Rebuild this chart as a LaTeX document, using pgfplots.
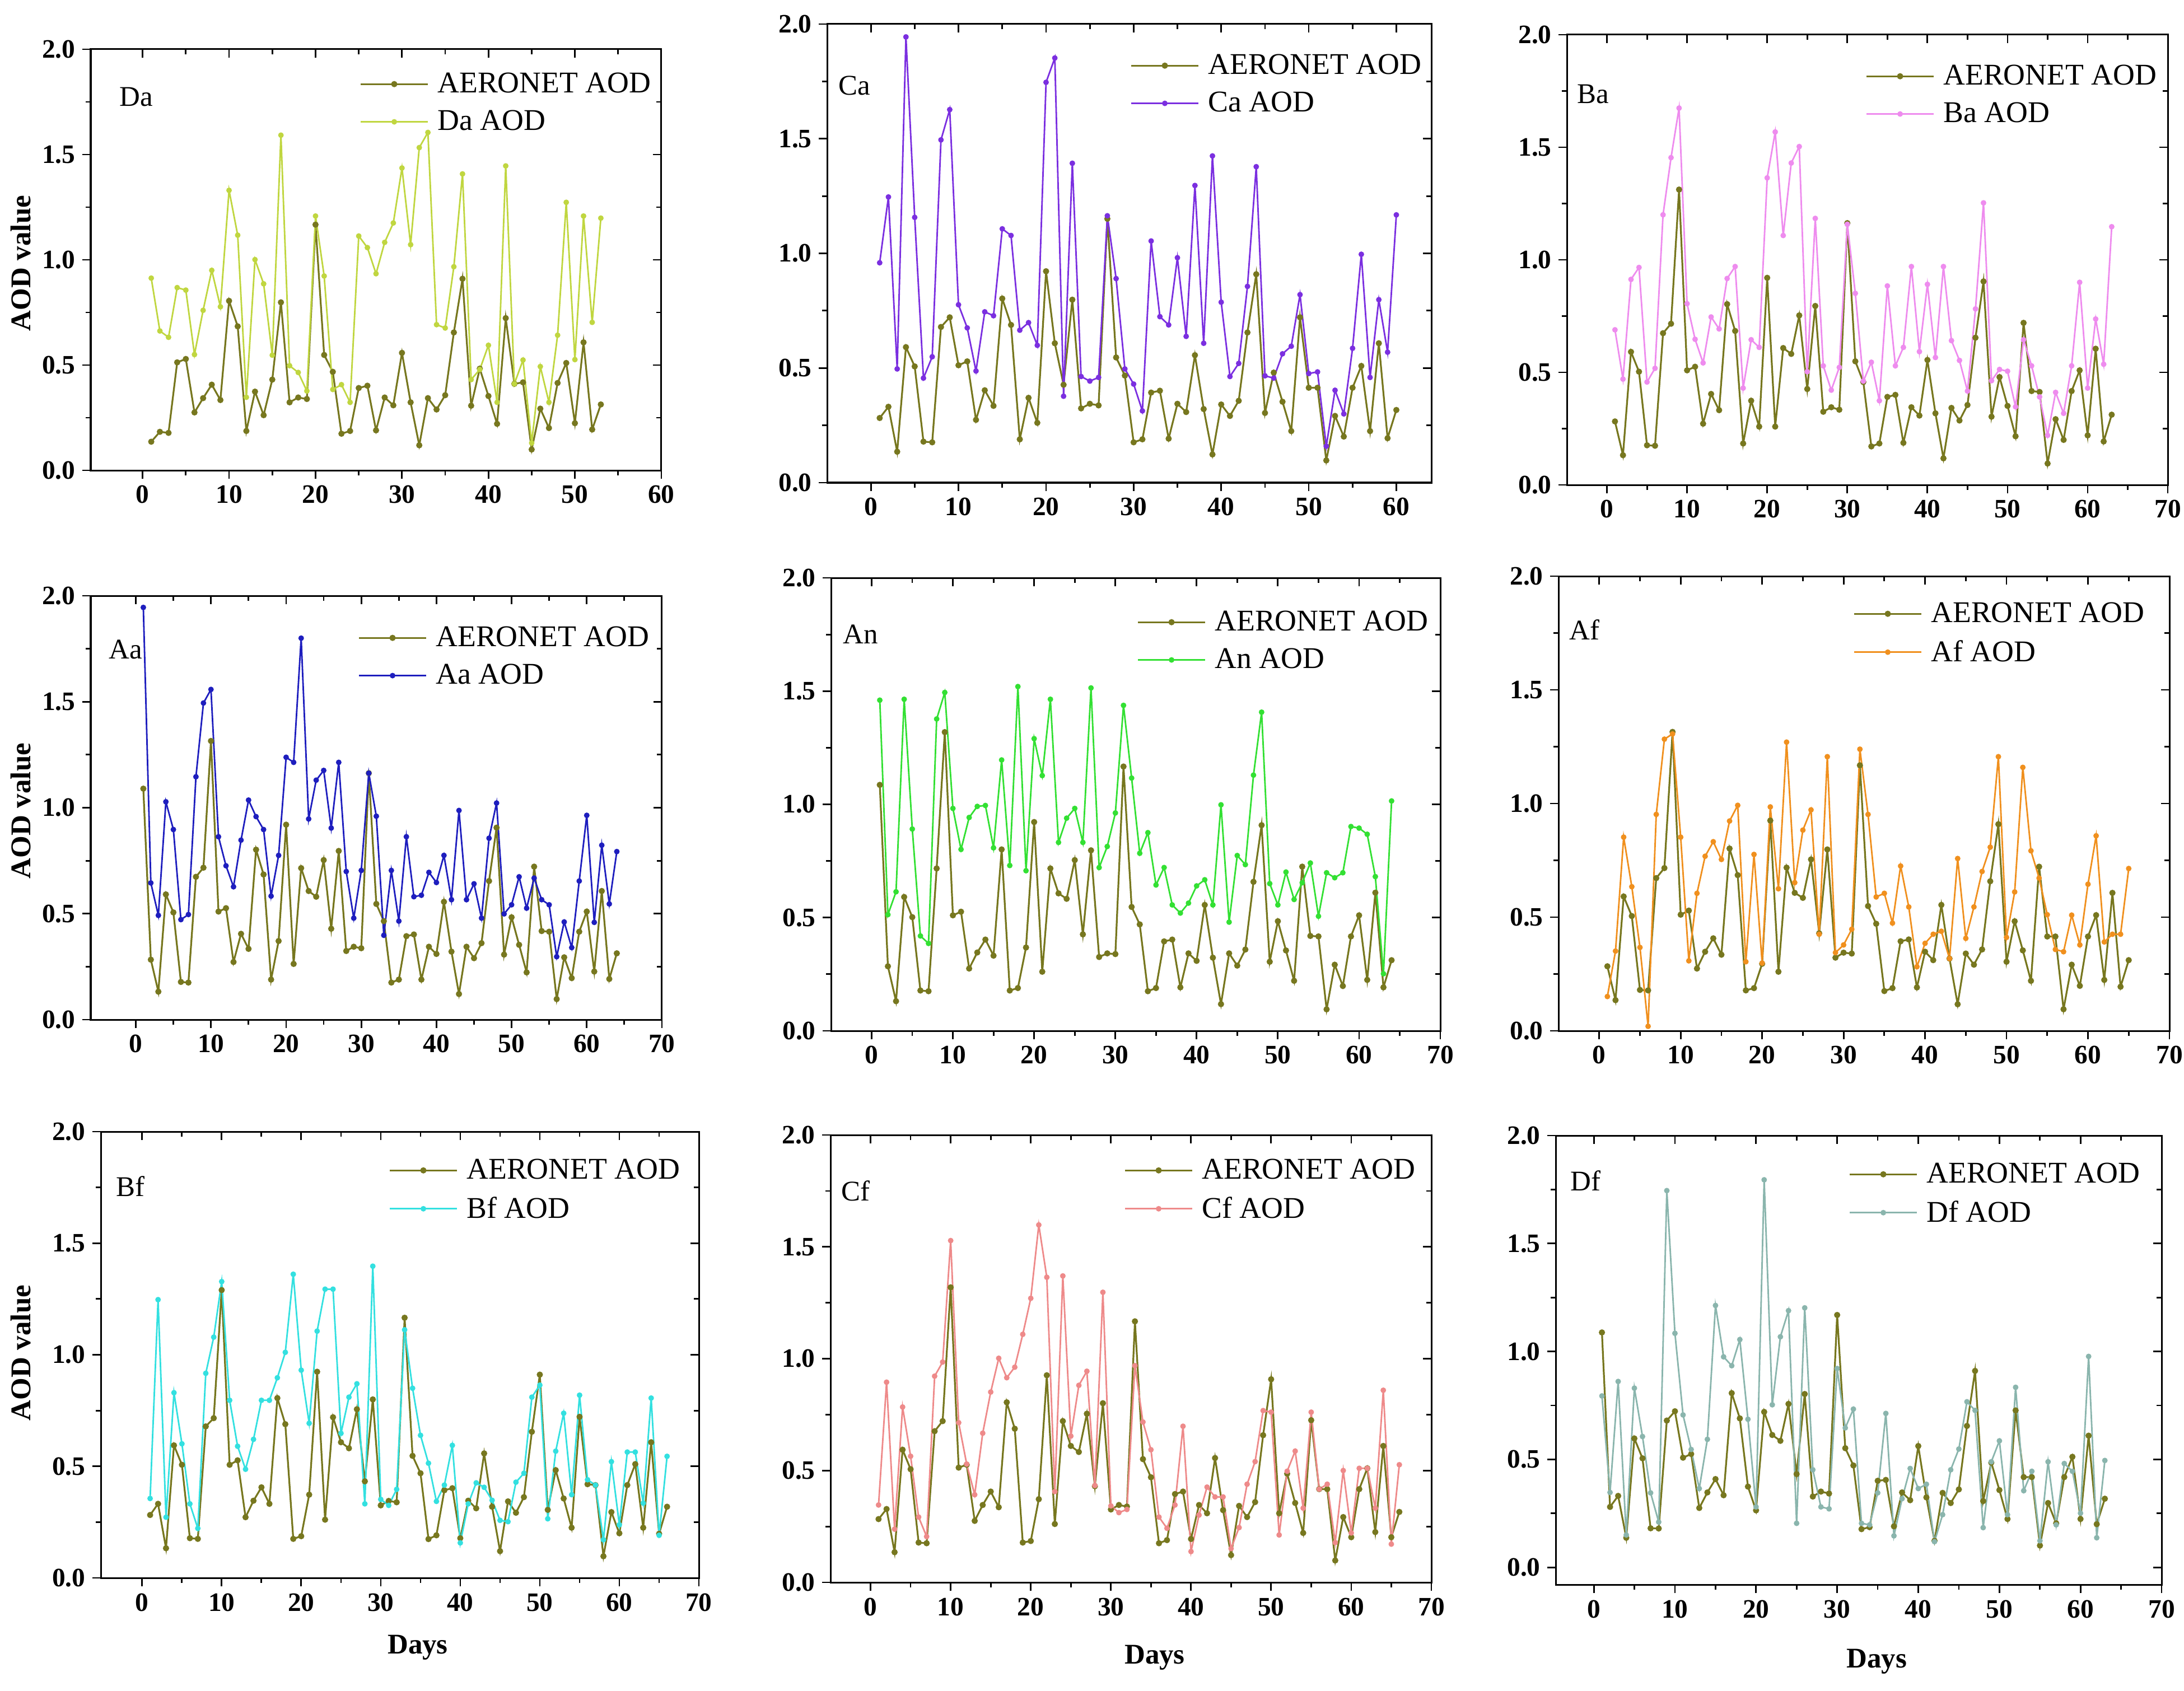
\documentclass[border=0pt]{standalone}
\usepackage{fontspec}
\setmainfont{Liberation Serif}
\usepackage{pgfplots}
\usepackage{pgfplotstable}
\pgfplotsset{compat=1.18}

\definecolor{aer}{HTML}{77771F}
\definecolor{cDa}{HTML}{C0D640}
\definecolor{cCa}{HTML}{7B2FE0}
\definecolor{cBa}{HTML}{EE8CEE}
\definecolor{cAa}{HTML}{1E1EBE}
\definecolor{cAn}{HTML}{33E033}
\definecolor{cAf}{HTML}{F0901E}
\definecolor{cBf}{HTML}{33E0E0}
\definecolor{cCf}{HTML}{EE8A8A}
\definecolor{cDf}{HTML}{8AB5AD}

\pgfplotstableread{
d a m
1 0.136 0.913
2 0.183 0.662
3 0.178 0.632
4 0.513 0.868
5 0.529 0.856
6 0.275 0.550
7 0.343 0.760
8 0.407 0.950
9 0.334 0.777
10 0.805 1.330
11 0.684 1.117
12 0.187 0.347
13 0.374 1.001
14 0.262 0.886
15 0.431 0.547
16 0.798 1.592
17 0.323 0.497
18 0.346 0.465
19 0.339 0.377
20 1.167 1.208
21 0.548 0.923
22 0.468 0.384
23 0.174 0.407
24 0.187 0.323
25 0.391 1.113
26 0.402 1.058
27 0.190 0.934
28 0.346 1.083
29 0.309 1.175
30 0.558 1.436
31 0.323 1.072
32 0.119 1.533
33 0.343 1.605
34 0.289 0.692
35 0.357 0.676
36 0.655 0.967
37 0.910 1.408
38 0.307 0.431
39 0.483 0.479
40 0.353 0.594
41 0.221 0.323
42 0.723 1.446
43 0.411 0.411
44 0.418 0.524
45 0.099 0.130
46 0.293 0.493
47 0.201 0.323
48 0.415 0.642
49 0.510 1.273
50 0.224 0.526
51 0.608 1.208
52 0.194 0.703
53 0.313 1.198
}\tDa

\pgfplotstableread{
d a m
1 0.282 0.959
2 0.331 1.246
3 0.135 0.496
4 0.591 1.944
5 0.507 1.157
6 0.179 0.456
7 0.176 0.549
8 0.679 1.495
9 0.721 1.627
10 0.512 0.776
11 0.529 0.675
12 0.274 0.487
13 0.403 0.745
14 0.335 0.728
15 0.803 1.107
16 0.688 1.078
17 0.189 0.665
18 0.370 0.698
19 0.261 0.599
20 0.922 1.746
21 0.608 1.852
22 0.427 0.377
23 0.798 1.393
24 0.324 0.463
25 0.344 0.443
26 0.337 0.459
27 1.151 1.164
28 0.546 0.890
29 0.467 0.496
30 0.176 0.430
31 0.189 0.313
32 0.393 1.054
33 0.401 0.724
34 0.192 0.688
35 0.344 0.981
36 0.308 0.638
37 0.556 1.296
38 0.321 0.608
39 0.123 1.425
40 0.341 0.787
41 0.291 0.463
42 0.357 0.520
43 0.655 0.856
44 0.909 1.378
45 0.304 0.466
46 0.480 0.456
47 0.353 0.562
48 0.225 0.595
49 0.721 0.820
50 0.414 0.476
51 0.414 0.483
52 0.097 0.159
53 0.291 0.403
54 0.201 0.300
55 0.414 0.586
56 0.509 0.996
57 0.225 0.459
58 0.608 0.798
59 0.194 0.569
60 0.317 1.168
}\tCa

\pgfplotstableread{
d a m
1 0.282 0.689
2 0.132 0.470
3 0.591 0.913
4 0.503 0.966
5 0.176 0.457
6 0.174 0.518
7 0.674 1.200
8 0.716 1.454
9 1.312 1.674
10 0.509 0.805
11 0.525 0.647
12 0.272 0.542
13 0.404 0.746
14 0.332 0.693
15 0.803 0.917
16 0.684 0.970
17 0.184 0.430
18 0.374 0.645
19 0.259 0.611
20 0.920 1.364
21 0.259 1.568
22 0.608 1.108
23 0.582 1.430
24 0.753 1.503
25 0.426 0.503
26 0.795 1.184
27 0.325 0.529
28 0.345 0.421
29 0.334 0.522
30 1.163 1.158
31 0.549 0.851
32 0.457 0.461
33 0.171 0.545
34 0.184 0.374
35 0.391 0.884
36 0.400 0.529
37 0.187 0.611
38 0.345 0.970
39 0.308 0.592
40 0.555 0.891
41 0.318 0.566
42 0.118 0.970
43 0.342 0.641
44 0.286 0.553
45 0.355 0.417
46 0.654 0.782
47 0.904 1.253
48 0.303 0.463
49 0.479 0.513
50 0.351 0.505
51 0.216 0.347
52 0.720 0.645
53 0.417 0.529
54 0.413 0.391
55 0.095 0.220
56 0.292 0.411
57 0.200 0.318
58 0.417 0.529
59 0.509 0.900
60 0.220 0.430
61 0.605 0.737
62 0.193 0.536
63 0.312 1.147
}\tBa

\pgfplotstableread{
d a m
1 1.090 1.945
2 0.283 0.645
3 0.132 0.492
4 0.591 1.028
5 0.506 0.897
6 0.178 0.472
7 0.175 0.496
8 0.674 1.146
9 0.717 1.494
10 1.315 1.558
11 0.510 0.863
12 0.526 0.726
13 0.272 0.627
14 0.405 0.847
15 0.334 1.036
16 0.802 0.958
17 0.685 0.897
18 0.189 0.583
19 0.371 0.775
20 0.920 1.238
21 0.263 1.214
22 0.715 1.800
23 0.607 0.947
24 0.580 1.130
25 0.753 1.176
26 0.429 0.904
27 0.796 1.214
28 0.324 0.699
29 0.344 0.479
30 0.337 0.704
31 1.163 1.163
32 0.546 0.960
33 0.465 0.398
34 0.175 0.704
35 0.189 0.465
36 0.394 0.863
37 0.402 0.580
38 0.189 0.587
39 0.344 0.695
40 0.310 0.647
41 0.556 0.775
42 0.321 0.566
43 0.121 0.987
44 0.344 0.566
45 0.290 0.641
46 0.361 0.479
47 0.654 0.856
48 0.906 1.022
49 0.307 0.499
50 0.483 0.542
51 0.353 0.674
52 0.223 0.526
53 0.722 0.668
54 0.418 0.566
55 0.415 0.542
56 0.097 0.297
57 0.294 0.461
58 0.196 0.340
59 0.415 0.654
60 0.510 0.964
61 0.227 0.459
62 0.607 0.823
63 0.192 0.546
64 0.313 0.793
}\tAa

\pgfplotstableread{
d a m
1 1.086 1.460
2 0.285 0.513
3 0.131 0.614
4 0.591 1.464
5 0.502 0.891
6 0.178 0.419
7 0.175 0.386
8 0.717 1.377
9 1.319 1.494
10 0.510 0.982
11 0.526 0.801
12 0.275 0.942
13 0.346 0.991
14 0.403 0.995
15 0.332 0.808
16 0.801 1.196
17 0.178 0.730
18 0.189 1.520
19 0.368 0.707
20 0.922 1.290
21 0.261 1.127
22 0.717 1.464
23 0.607 0.832
24 0.583 0.939
25 0.754 0.982
26 0.426 0.832
27 0.797 1.514
28 0.326 0.721
29 0.342 0.814
30 0.339 0.962
31 1.167 1.437
32 0.547 1.116
33 0.470 0.784
34 0.175 0.875
35 0.189 0.644
36 0.395 0.721
37 0.403 0.556
38 0.192 0.520
39 0.342 0.564
40 0.309 0.640
41 0.556 0.667
42 0.323 0.556
43 0.118 0.998
44 0.342 0.480
45 0.288 0.774
46 0.359 0.734
47 0.658 1.129
48 0.908 1.407
49 0.305 0.650
50 0.484 0.556
51 0.355 0.701
52 0.221 0.580
53 0.725 0.654
54 0.419 0.741
55 0.417 0.506
56 0.095 0.698
57 0.292 0.676
58 0.198 0.698
59 0.417 0.902
60 0.510 0.895
61 0.225 0.868
62 0.610 0.681
63 0.192 0.252
64 0.312 1.015
}\tAn

\pgfplotstableread{
d a m
1 0.284 0.151
2 0.135 0.351
3 0.591 0.852
4 0.505 0.634
5 0.180 0.367
6 0.178 0.020
7 0.672 0.952
8 0.716 1.283
9 1.315 1.306
10 0.511 0.852
11 0.529 0.308
12 0.274 0.605
13 0.348 0.768
14 0.407 0.832
15 0.335 0.754
16 0.802 0.923
17 0.685 0.992
18 0.178 0.304
19 0.188 0.776
20 0.295 0.298
21 0.925 0.985
22 0.260 0.625
23 0.718 1.270
24 0.607 0.652
25 0.585 0.883
26 0.754 0.972
27 0.429 0.425
28 0.798 1.206
29 0.322 0.344
30 0.344 0.378
31 0.340 0.447
32 1.168 1.239
33 0.549 0.952
34 0.471 0.589
35 0.175 0.605
36 0.188 0.474
37 0.394 0.725
38 0.402 0.545
39 0.191 0.282
40 0.348 0.385
41 0.311 0.425
42 0.554 0.438
43 0.318 0.318
44 0.117 0.758
45 0.340 0.407
46 0.291 0.545
47 0.358 0.701
48 0.658 0.808
49 0.909 1.206
50 0.304 0.411
51 0.482 0.611
52 0.354 1.159
53 0.220 0.792
54 0.722 0.672
55 0.415 0.511
56 0.415 0.358
57 0.095 0.348
58 0.291 0.509
59 0.198 0.378
60 0.415 0.645
61 0.509 0.858
62 0.224 0.391
63 0.607 0.425
64 0.194 0.425
65 0.311 0.714
}\tAf

\pgfplotstableread{
d a m
1 0.282 0.356
2 0.332 1.247
3 0.133 0.272
4 0.594 0.830
5 0.507 0.601
6 0.178 0.332
7 0.175 0.222
8 0.679 0.917
9 0.716 1.079
10 1.290 1.328
11 0.507 0.796
12 0.527 0.590
13 0.272 0.487
14 0.346 0.621
15 0.406 0.796
16 0.332 0.796
17 0.806 0.897
18 0.689 1.011
19 0.175 1.361
20 0.187 0.931
21 0.373 0.693
22 0.924 1.106
23 0.261 1.294
24 0.720 1.294
25 0.608 0.648
26 0.581 0.810
27 0.756 0.870
28 0.433 0.332
29 0.800 1.397
30 0.325 0.352
31 0.345 0.325
32 0.339 0.397
33 1.166 1.112
34 0.547 0.850
35 0.469 0.639
36 0.174 0.514
37 0.191 0.343
38 0.393 0.416
39 0.402 0.594
40 0.178 0.157
41 0.346 0.332
42 0.312 0.426
43 0.558 0.406
44 0.319 0.348
45 0.120 0.258
46 0.343 0.252
47 0.292 0.429
48 0.362 0.469
49 0.655 0.810
50 0.911 0.864
51 0.305 0.265
52 0.483 0.568
53 0.356 0.738
54 0.225 0.373
55 0.722 0.819
56 0.420 0.440
57 0.416 0.416
58 0.097 0.171
59 0.295 0.521
60 0.200 0.238
61 0.416 0.564
62 0.510 0.564
63 0.225 0.335
64 0.608 0.806
65 0.198 0.191
66 0.319 0.545
}\tBf

\pgfplotstableread{
d a m
1 0.283 0.346
2 0.328 0.895
3 0.135 0.238
4 0.593 0.784
5 0.506 0.564
6 0.178 0.292
7 0.175 0.205
8 0.676 0.922
9 0.721 0.985
10 1.319 1.528
11 0.513 0.714
12 0.526 0.529
13 0.275 0.392
14 0.346 0.667
15 0.406 0.851
16 0.336 1.002
17 0.805 0.915
18 0.687 0.962
19 0.178 1.109
20 0.185 1.270
21 0.372 1.598
22 0.926 1.364
23 0.261 0.406
24 0.721 1.370
25 0.610 0.654
26 0.583 0.881
27 0.754 0.944
28 0.430 0.433
29 0.801 1.297
30 0.326 0.342
31 0.346 0.312
32 0.339 0.326
33 1.167 0.969
34 0.551 0.717
35 0.470 0.593
36 0.175 0.292
37 0.189 0.242
38 0.395 0.346
39 0.406 0.698
40 0.194 0.138
41 0.346 0.301
42 0.309 0.426
43 0.556 0.382
44 0.323 0.382
45 0.122 0.151
46 0.342 0.245
47 0.292 0.439
48 0.359 0.540
49 0.658 0.768
50 0.908 0.761
51 0.309 0.212
52 0.486 0.497
53 0.355 0.587
54 0.221 0.332
55 0.725 0.761
56 0.417 0.417
57 0.417 0.439
58 0.098 0.178
59 0.292 0.500
60 0.202 0.221
61 0.417 0.510
62 0.510 0.510
63 0.225 0.332
64 0.610 0.859
65 0.202 0.171
66 0.315 0.526
}\tCf

\pgfplotstableread{
d a m
1 1.088 0.794
2 0.280 0.347
3 0.331 0.861
4 0.137 0.150
5 0.597 0.830
6 0.505 0.606
7 0.181 0.345
8 0.180 0.210
9 0.680 1.745
10 0.723 1.084
11 0.508 0.706
12 0.525 0.546
13 0.275 0.365
14 0.347 0.593
15 0.409 1.213
16 0.334 0.975
17 0.807 0.934
18 0.690 1.055
19 0.374 0.686
20 0.264 0.280
21 0.720 1.795
22 0.613 0.753
23 0.586 1.068
24 0.757 1.189
25 0.432 0.204
26 0.803 1.202
27 0.328 0.452
28 0.351 0.280
29 0.342 0.271
30 1.169 0.921
31 0.552 0.646
32 0.472 0.733
33 0.177 0.204
34 0.186 0.197
35 0.401 0.345
36 0.405 0.713
37 0.190 0.146
38 0.347 0.318
39 0.311 0.458
40 0.562 0.365
41 0.324 0.385
42 0.123 0.119
43 0.345 0.244
44 0.298 0.452
45 0.361 0.548
46 0.655 0.767
47 0.910 0.727
48 0.307 0.184
49 0.485 0.489
50 0.358 0.586
51 0.224 0.244
52 0.727 0.834
53 0.418 0.355
54 0.418 0.445
55 0.101 0.123
56 0.298 0.489
57 0.204 0.197
58 0.418 0.481
59 0.512 0.445
60 0.224 0.251
61 0.610 0.977
62 0.200 0.137
63 0.318 0.495
}\tDf

\tikzset{plab/.style={anchor=west, inner sep=0pt, font=\fontsize{14.5}{16}\selectfont}}

\pgfplotsset{
  pbase/.style={scale only axis, anchor=south west, ymax=2,
    ytick={0,0.5,1,1.5,2}, minor x tick num=1, minor y tick num=1,
    axis line style={line width=0.3mm},
    tick style={line width=0.28mm, black},
    major tick length=1.5mm, minor tick length=0.9mm},
  main/.style={pbase, tick align=outside, xtick pos=left, ytick pos=left,
    /pgf/number format/assume math mode=true,
    tick label style={font=\fontsize{13.5}{15}\selectfont\bfseries},
    yticklabel style={/pgf/number format/fixed, /pgf/number format/fixed zerofill, /pgf/number format/precision=1},
    legend cell align=left,
    legend style={draw=none, fill=none, inner sep=0pt, outer sep=0pt,
      row sep=2.3mm, column sep=1.4mm, at={(1,1)}, anchor=north east,
      font=\fontsize{15.3}{16}\selectfont, nodes={inner sep=0.5pt}},
    legend image code/.code={\draw[mark repeat=2, mark phase=2, ##1] plot coordinates {(0mm,0mm)(6mm,0mm)(12mm,0mm)};}},
  mirror/.style={pbase, tick align=inside, xtick pos=right, ytick pos=right,
    xticklabels={}, yticklabels={}},
  aerp/.style={color=aer, line width=0.32mm, mark=*, mark size=1.1pt, mark options={solid, fill=aer}},
  modp/.style={color=#1, line width=0.28mm, mark=*, mark size=1pt, mark options={solid, fill=#1}},
  gDa/.style={at={(16.2mm,-84.0mm)}, width=101.9mm, height=75.2mm, xmin=-6, xmax=60, ymin=0, xtick={0,10,...,60}},
  gCa/.style={at={(147.7mm,-86.2mm)}, width=107.9mm, height=81.9mm, xmin=-5, xmax=64, ymin=0, xtick={0,10,...,60}},
  gBa/.style={at={(279.8mm,-86.6mm)}, width=107.3mm, height=80.4mm, xmin=-5, xmax=70, ymin=0, xtick={0,10,...,70}},
  gAa/.style={at={(16.2mm,-182.1mm)}, width=102.0mm, height=75.7mm, xmin=-6, xmax=70, ymin=0, xtick={0,10,...,70}},
  gAn/.style={at={(148.4mm,-184.1mm)}, width=108.8mm, height=80.9mm, xmin=-5, xmax=70, ymin=0, xtick={0,10,...,70}},
  gAf/.style={at={(278.3mm,-184.1mm)}, width=109.1mm, height=81.2mm, xmin=-5, xmax=70, ymin=0, xtick={0,10,...,70}},
  gBf/.style={at={(18.0mm,-281.8mm)}, width=106.8mm, height=79.7mm, xmin=-5.2, xmax=70, ymin=0, xtick={0,10,...,70}},
  gCf/.style={at={(148.3mm,-282.6mm)}, width=107.3mm, height=79.9mm, xmin=-5, xmax=70, ymin=0, xtick={0,10,...,70}},
  gDf/.style={at={(277.8mm,-283.0mm)}, width=108.2mm, height=80.2mm, xmin=-4.7, xmax=70, ymin=-0.08, xtick={0,10,...,70}},
}

\begin{document}
\begin{tikzpicture}
\useasboundingbox (0,0) rectangle (390mm,-302mm);

% ---- Da
\begin{axis}[main, gDa, legend style={xshift=-1.7mm, yshift=-4.0mm}]
\addplot[aerp] table[x=d,y=a] {\tDa}; \addlegendentry{AERONET AOD}
\addplot[modp=cDa] table[x=d,y=m] {\tDa}; \addlegendentry{Da AOD}
\node[plab] at (rel axis cs:0.05,0.887) {Da};
\end{axis}
\begin{axis}[mirror, gDa]\end{axis}

% ---- Ca
\begin{axis}[main, gCa, legend style={xshift=-1.6mm, yshift=-5.2mm}]
\addplot[aerp] table[x=d,y=a] {\tCa}; \addlegendentry{AERONET AOD}
\addplot[modp=cCa] table[x=d,y=m] {\tCa}; \addlegendentry{Ca AOD}
\node[plab] at (rel axis cs:0.0185,0.866) {Ca};
\end{axis}
\begin{axis}[mirror, gCa]\end{axis}

% ---- Ba
\begin{axis}[main, gBa, legend style={xshift=-1.8mm, yshift=-5.2mm}]
\addplot[aerp] table[x=d,y=a] {\tBa}; \addlegendentry{AERONET AOD}
\addplot[modp=cBa] table[x=d,y=m] {\tBa}; \addlegendentry{Ba AOD}
\node[plab] at (rel axis cs:0.0168,0.868) {Ba};
\end{axis}
\begin{axis}[mirror, gBa]\end{axis}

% ---- Aa
\begin{axis}[main, gAa, legend style={xshift=-2.1mm, yshift=-5.3mm}]
\addplot[aerp] table[x=d,y=a] {\tAa}; \addlegendentry{AERONET AOD}
\addplot[modp=cAa] table[x=d,y=m] {\tAa}; \addlegendentry{Aa AOD}
\node[plab] at (rel axis cs:0.031,0.873) {Aa};
\end{axis}
\begin{axis}[mirror, gAa]\end{axis}

% ---- An
\begin{axis}[main, gAn, legend style={xshift=-2.0mm, yshift=-5.7mm}]
\addplot[aerp] table[x=d,y=a] {\tAn}; \addlegendentry{AERONET AOD}
\addplot[modp=cAn] table[x=d,y=m] {\tAn}; \addlegendentry{An AOD}
\node[plab] at (rel axis cs:0.019,0.876) {An};
\end{axis}
\begin{axis}[mirror, gAn]\end{axis}

% ---- Af
\begin{axis}[main, gAf, legend style={xshift=-4.3mm, yshift=-4.5mm}]
\addplot[aerp] table[x=d,y=a] {\tAf}; \addlegendentry{AERONET AOD}
\addplot[modp=cAf] table[x=d,y=m] {\tAf}; \addlegendentry{Af AOD}
\node[plab] at (rel axis cs:0.0174,0.882) {Af};
\end{axis}
\begin{axis}[mirror, gAf]\end{axis}

% ---- Bf
\begin{axis}[main, gBf, legend style={xshift=-3.2mm, yshift=-4.7mm}]
\addplot[aerp] table[x=d,y=a] {\tBf}; \addlegendentry{AERONET AOD}
\addplot[modp=cBf] table[x=d,y=m] {\tBf}; \addlegendentry{Bf AOD}
\node[plab] at (rel axis cs:0.025,0.878) {Bf};
\end{axis}
\begin{axis}[mirror, gBf]\end{axis}

% ---- Cf
\begin{axis}[main, gCf, legend style={xshift=-2.7mm, yshift=-4.1mm}]
\addplot[aerp] table[x=d,y=a] {\tCf}; \addlegendentry{AERONET AOD}
\addplot[modp=cCf] table[x=d,y=m] {\tCf}; \addlegendentry{Cf AOD}
\node[plab] at (rel axis cs:0.0177,0.875) {Cf};
\end{axis}
\begin{axis}[mirror, gCf]\end{axis}

% ---- Df
\begin{axis}[main, gDf, legend style={xshift=-3.7mm, yshift=-4.7mm}]
\addplot[aerp] table[x=d,y=a] {\tDf}; \addlegendentry{AERONET AOD}
\addplot[modp=cDf] table[x=d,y=m] {\tDf}; \addlegendentry{Df AOD}
\node[plab] at (rel axis cs:0.024,0.900) {Df};
\end{axis}
\begin{axis}[mirror, gDf]\end{axis}

% axis titles
\begin{scope}[every node/.style={font=\bfseries\fontsize{14.5}{16}\selectfont}]
\node[rotate=90] at (3.7mm,-47.0mm) {AOD value};
\node[rotate=90] at (3.7mm,-144.8mm) {AOD value};
\node[rotate=90] at (3.7mm,-241.6mm) {AOD value};
\node at (74.6mm,-294.2mm) {Days};
\node at (206.2mm,-296.0mm) {Days};
\node at (335.1mm,-296.7mm) {Days};
\end{scope}
\end{tikzpicture}
\end{document}
